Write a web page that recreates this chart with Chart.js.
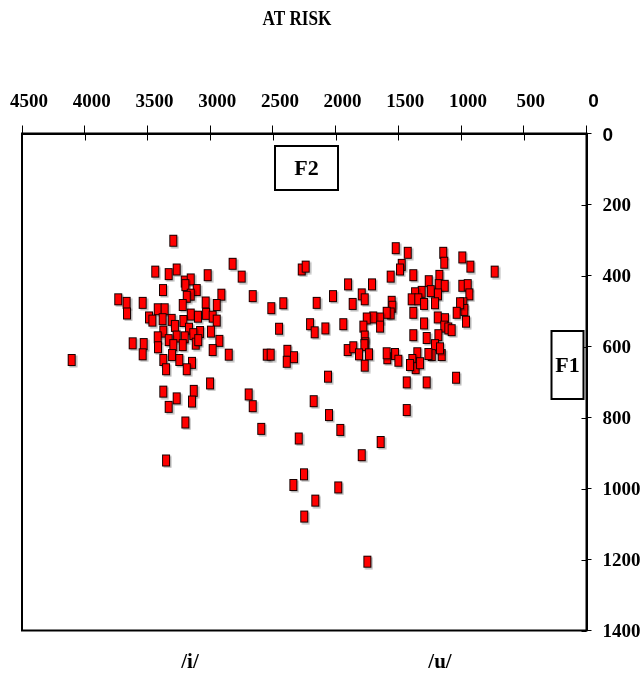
<!DOCTYPE html>
<html>
<head>
<meta charset="utf-8">
<title>AT RISK</title>
<script src="https://cdn.jsdelivr.net/npm/chart.js@4/dist/chart.umd.min.js"></script>
<style>
  html, body { margin: 0; padding: 0; background: #fff; }
  canvas { display: block; }
</style>
</head>
<body>
<canvas id="vowelChart" width="642" height="675"></canvas>
<script>
// axis ticks (Hz)
const f2Ticks = [0, 500, 1000, 1500, 2000, 2500, 3000, 3500, 4000, 4500];
const f1Ticks = [0, 200, 400, 600, 800, 1000, 1200, 1400];

// F2 / F1 of every token
const f2 = [
  3294, 3438, 3331, 3267, 3020, 2821, 2749, 2270, 2239, 3203,
  3155, 3198, 3107, 3376, 2911, 2661, 3733, 3666, 3538, 3155,
  3187, 3036, 2948, 3219, 3663, 3418, 3363, 3488, 3461, 3379,
  3307, 3155, 3097, 3033, 2980, 2948, 3214, 3281, 3169, 3081,
  2994, 3374, 3135, 3267, 3203, 3418, 3331, 3618, 3530, 3416,
  3294, 3219, 3115, 3095, 2927, 2980, 3538, 3304, 2852, 2549,
  2518, 2385, 2390, 2332, 4104, 3374, 3246, 3145, 3352, 3187,
  3001, 3374, 3267, 3131, 3145, 3331, 2693, 2661, 3198, 2593,
  2294, 3352, 2175, 2204, 2167, 2451, 2417, 2513, 2151, 2252,
  2337, 1979, 2162, 2250, 1747, 1901, 2021, 1864, 1939, 2082,
  1904, 1859, 2061, 2053, 1963, 1792, 1641, 1521, 1425, 1142,
  1134, 990, 926, 732, 1473, 1487, 1381, 1561, 1710, 1792,
  1768, 1173, 1258, 1178, 1130, 1242, 1184, 990, 947, 934,
  1314, 1367, 1394, 1341, 1295, 1208, 1381, 1553, 1548, 1561,
  1593, 1646, 1700, 1752, 1779, 1646, 1186, 1128, 1134, 1102,
  1295, 982, 974, 1008, 1035, 961, 1381, 1274, 1181, 1075,
  1208, 1154, 1234, 1261, 1349, 1389, 1362, 1407, 1327, 1588,
  1527, 1500, 1593, 1768, 1763, 1771, 1814, 1734, 1768, 1433,
  1274, 1040, 1433, 1168
];
const f1 = [
  302, 389, 396, 383, 399, 367, 403, 383, 375, 417,
  411, 427, 441, 441, 454, 458, 467, 477, 477, 454,
  460, 476, 483, 483, 507, 495, 495, 518, 527, 523,
  525, 510, 516, 508, 516, 527, 528, 542, 550, 559,
  558, 558, 565, 572, 574, 574, 582, 591, 593, 602,
  596, 596, 592, 582, 584, 610, 622, 624, 623, 623,
  623, 612, 643, 630, 638, 638, 638, 646, 664, 664,
  704, 727, 746, 725, 755, 770, 735, 768, 814, 832,
  859, 921, 754, 537, 560, 550, 478, 492, 477, 960,
  990, 997, 1034, 1079, 1206, 425, 458, 480, 537, 549,
  610, 602, 685, 793, 835, 906, 869, 323, 336, 336,
  364, 349, 375, 389, 370, 383, 399, 403, 425, 453,
  467, 401, 416, 427, 429, 444, 453, 429, 427, 453,
  446, 450, 467, 467, 480, 478, 505, 474, 488, 507,
  505, 521, 518, 521, 544, 544, 518, 523, 544, 549,
  535, 478, 497, 478, 505, 530, 568, 576, 568, 554,
  596, 624, 624, 621, 619, 638, 661, 652, 647, 633,
  621, 640, 619, 572, 591, 596, 622, 622, 654, 701,
  701, 688, 779, 605
];

const serif = 'Liberation Serif, Times New Roman, serif';
const sans = 'Liberation Sans, Arial, sans-serif';

// red block with a dark edge and a soft grey shadow
function makeMarker() {
  const c = document.createElement('canvas');
  c.width = 12;
  c.height = 16;
  const g = c.getContext('2d');
  g.fillStyle = 'rgba(0,0,0,0.28)';
  g.fillRect(3.5, 3.5, 8, 12);
  g.fillStyle = '#ff0000';
  g.fillRect(2, 2, 8, 12);
  g.strokeStyle = '#1a0000';
  g.lineWidth = 1;
  g.strokeRect(2.5, 2.5, 7, 11);
  return c;
}

function tickFont(ctx) {
  // the zero labels are set in a sans face in the original
  if (ctx.tick && ctx.tick.value === 0) return { family: sans, size: 19, weight: 'bold' };
  return { family: serif, size: 19, weight: 'bold' };
}

const decorations = {
  id: 'decorations',
  afterDraw(chart) {
    const { ctx, chartArea: a, scales: { x, y } } = chart;
    ctx.save();
    ctx.strokeStyle = '#000';
    ctx.lineWidth = 2;
    ctx.strokeRect(a.left, a.top, a.right - a.left, a.bottom - a.top);

    // inner half of the tick marks
    ctx.lineWidth = 1;
    ctx.beginPath();
    f2Ticks.forEach(v => {
      const px = Math.round(x.getPixelForValue(v)) + 0.5;
      ctx.moveTo(px, a.top);
      ctx.lineTo(px, a.top + 7);
    });
    f1Ticks.forEach(v => {
      const py = Math.round(y.getPixelForValue(v)) + 0.5;
      ctx.moveTo(a.right - 5, py);
      ctx.lineTo(a.right, py);
    });
    ctx.stroke();

    ctx.fillStyle = '#000';
    ctx.textAlign = 'center';
    ctx.textBaseline = 'middle';

    // title is set narrow and tight in the original
    ctx.save();
    ctx.translate(297, 19);
    ctx.scale(0.78, 1);
    ctx.font = 'bold 22px ' + serif;
    ctx.fillText('AT RISK', 0, 0);
    ctx.restore();

    // F2 / F1 boxes
    ctx.lineWidth = 2;
    ctx.fillStyle = '#fff';
    ctx.fillRect(275, 146, 63, 44);
    ctx.strokeRect(275, 146, 63, 44);
    ctx.fillRect(551.5, 331, 32, 68);
    ctx.strokeRect(551.5, 331, 32, 68);
    ctx.fillStyle = '#000';
    ctx.font = 'bold 22px ' + serif;
    ctx.fillText('F2', 306.5, 169);
    ctx.fillText('F1', 567.5, 366);

    ctx.font = 'bold 21px ' + serif;
    ctx.fillText('/i/', 190, 663);
    ctx.fillText('/u/', 440, 663);
    ctx.restore();
  }
};

const points = f2.map((v, i) => ({ x: v, y: f1[i] }));

new Chart(document.getElementById('vowelChart'), {
  type: 'scatter',
  data: {
    datasets: [{
      label: 'AT RISK',
      data: points,
      pointStyle: makeMarker(),
      pointRadius: 6,
      pointHoverRadius: 6
    }]
  },
  options: {
    responsive: false,
    animation: false,
    events: [],
    layout: { padding: { left: 22, right: 0, top: 0, bottom: 44.5 } },
    plugins: {
      legend: { display: false },
      tooltip: { enabled: false }
    },
    scales: {
      x: {
        type: 'linear',
        position: 'top',
        reverse: true,
        min: 0,
        max: 4500,
        afterBuildTicks: s => { s.ticks = f2Ticks.map(v => ({ value: v })); },
        afterFit: s => { s.height = 133.5; },
        grid: { drawOnChartArea: false, color: '#000', tickLength: 8, tickWidth: 1 },
        border: { display: true, color: '#000', width: 2 },
        ticks: {
          color: '#000',
          font: tickFont,
          padding: 12,
          labelOffset: 7,
          maxRotation: 0,
          autoSkip: false,
          callback: v => String(v)
        }
      },
      y: {
        type: 'linear',
        position: 'right',
        reverse: true,
        min: 0,
        max: 1400,
        afterBuildTicks: s => { s.ticks = f1Ticks.map(v => ({ value: v })); },
        afterFit: s => { s.width = 55.5; },
        grid: { drawOnChartArea: false, color: '#000', tickLength: 5, tickWidth: 1 },
        border: { display: true, color: '#000', width: 2 },
        ticks: {
          color: '#000',
          font: tickFont,
          padding: 11,
          labelOffset: 2,
          autoSkip: false,
          callback: v => String(v)
        }
      }
    }
  },
  plugins: [decorations]
});
</script>
</body>
</html>
